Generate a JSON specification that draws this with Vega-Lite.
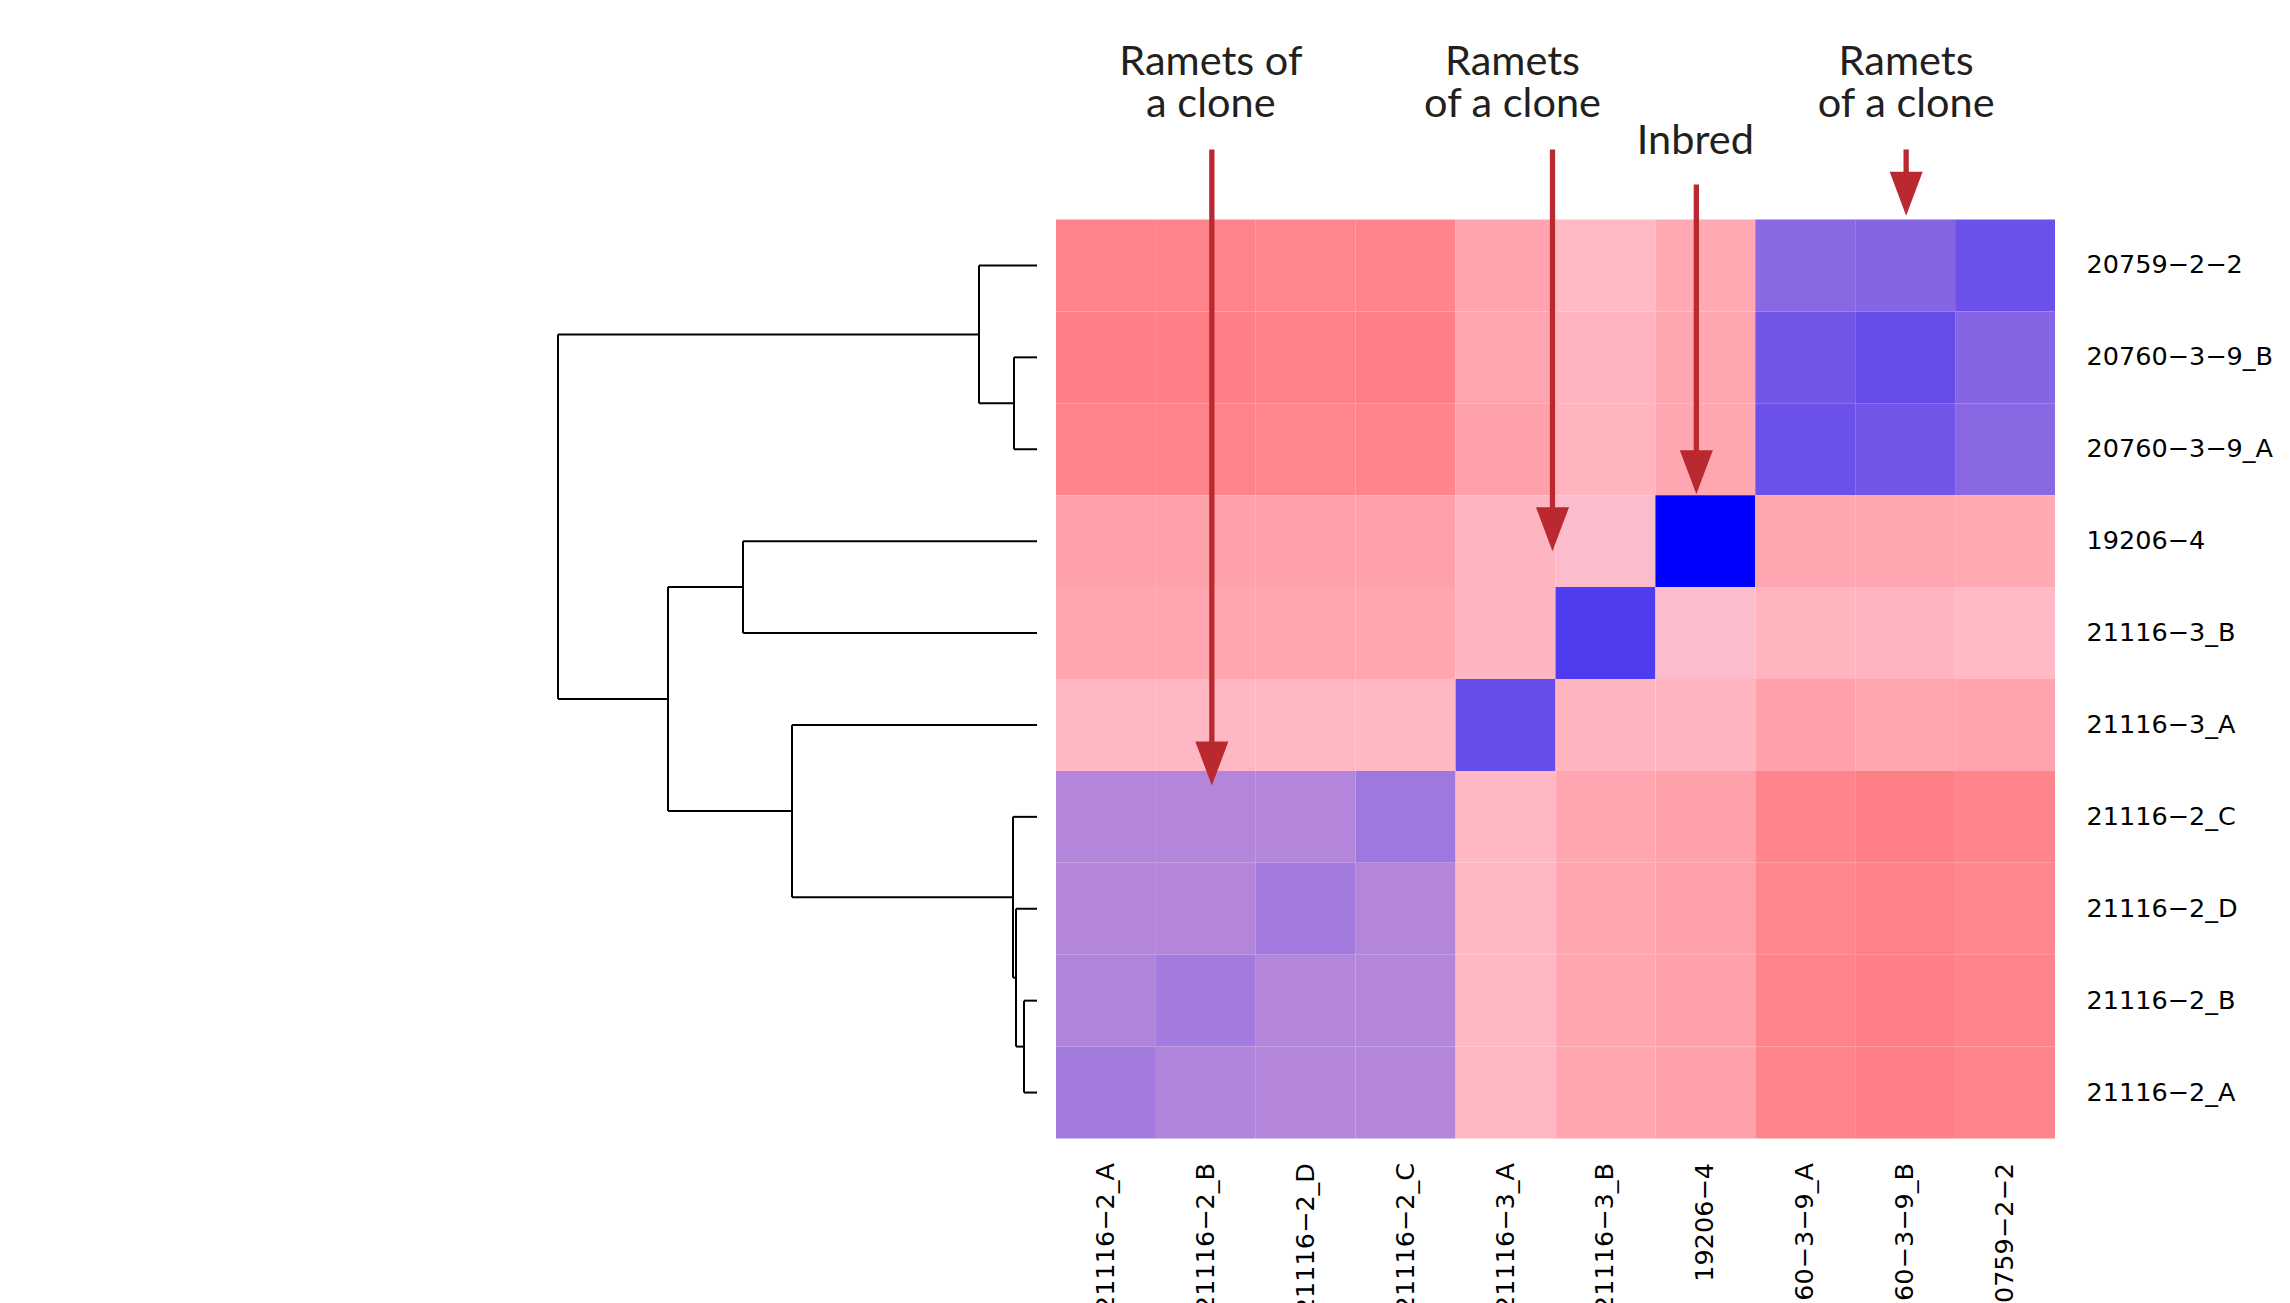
{
  "$schema": "https://vega.github.io/schema/vega-lite/v6.json",
  "background": "white",
  "padding": {"left": 537, "top": 41.5, "right": 0, "bottom": 0},
  "bounds": "flush",
  "spacing": 19,
  "config": {"view": {"stroke": null}},
  "datasets": {
    "heat": [
      {"r": "20759−2−2", "c": "21116−2_A", "v": 1.32},
      {"r": "20759−2−2", "c": "21116−2_B", "v": 1.32},
      {"r": "20759−2−2", "c": "21116−2_D", "v": 1.30},
      {"r": "20759−2−2", "c": "21116−2_C", "v": 1.315},
      {"r": "20759−2−2", "c": "21116−3_A", "v": 1.145},
      {"r": "20759−2−2", "c": "21116−3_B", "v": 1.03},
      {"r": "20759−2−2", "c": "19206−4", "v": 1.12},
      {"r": "20759−2−2", "c": "20760−3−9_A", "v": 0.54},
      {"r": "20759−2−2", "c": "20760−3−9_B", "v": 0.525},
      {"r": "20759−2−2", "c": "20759−2−2", "v": 0.42},

      {"r": "20760−3−9_B", "c": "21116−2_A", "v": 1.34},
      {"r": "20760−3−9_B", "c": "21116−2_B", "v": 1.34},
      {"r": "20760−3−9_B", "c": "21116−2_D", "v": 1.33},
      {"r": "20760−3−9_B", "c": "21116−2_C", "v": 1.34},
      {"r": "20760−3−9_B", "c": "21116−3_A", "v": 1.14},
      {"r": "20760−3−9_B", "c": "21116−3_B", "v": 1.06},
      {"r": "20760−3−9_B", "c": "19206−4", "v": 1.13},
      {"r": "20760−3−9_B", "c": "20760−3−9_A", "v": 0.45},
      {"r": "20760−3−9_B", "c": "20760−3−9_B", "v": 0.40},
      {"r": "20760−3−9_B", "c": "20759−2−2", "v": 0.525},

      {"r": "20760−3−9_A", "c": "21116−2_A", "v": 1.32},
      {"r": "20760−3−9_A", "c": "21116−2_B", "v": 1.32},
      {"r": "20760−3−9_A", "c": "21116−2_D", "v": 1.30},
      {"r": "20760−3−9_A", "c": "21116−2_C", "v": 1.315},
      {"r": "20760−3−9_A", "c": "21116−3_A", "v": 1.16},
      {"r": "20760−3−9_A", "c": "21116−3_B", "v": 1.065},
      {"r": "20760−3−9_A", "c": "19206−4", "v": 1.13},
      {"r": "20760−3−9_A", "c": "20760−3−9_A", "v": 0.42},
      {"r": "20760−3−9_A", "c": "20760−3−9_B", "v": 0.45},
      {"r": "20760−3−9_A", "c": "20759−2−2", "v": 0.54},

      {"r": "19206−4", "c": "21116−2_A", "v": 1.16},
      {"r": "19206−4", "c": "21116−2_B", "v": 1.16},
      {"r": "19206−4", "c": "21116−2_D", "v": 1.16},
      {"r": "19206−4", "c": "21116−2_C", "v": 1.16},
      {"r": "19206−4", "c": "21116−3_A", "v": 1.055},
      {"r": "19206−4", "c": "21116−3_B", "v": 0.985},
      {"r": "19206−4", "c": "19206−4", "v": 0.0},
      {"r": "19206−4", "c": "20760−3−9_A", "v": 1.13},
      {"r": "19206−4", "c": "20760−3−9_B", "v": 1.13},
      {"r": "19206−4", "c": "20759−2−2", "v": 1.12},

      {"r": "21116−3_B", "c": "21116−2_A", "v": 1.135},
      {"r": "21116−3_B", "c": "21116−2_B", "v": 1.135},
      {"r": "21116−3_B", "c": "21116−2_D", "v": 1.135},
      {"r": "21116−3_B", "c": "21116−2_C", "v": 1.135},
      {"r": "21116−3_B", "c": "21116−3_A", "v": 1.055},
      {"r": "21116−3_B", "c": "21116−3_B", "v": 0.31},
      {"r": "21116−3_B", "c": "19206−4", "v": 0.985},
      {"r": "21116−3_B", "c": "20760−3−9_A", "v": 1.065},
      {"r": "21116−3_B", "c": "20760−3−9_B", "v": 1.06},
      {"r": "21116−3_B", "c": "20759−2−2", "v": 1.03},

      {"r": "21116−3_A", "c": "21116−2_A", "v": 1.04},
      {"r": "21116−3_A", "c": "21116−2_B", "v": 1.04},
      {"r": "21116−3_A", "c": "21116−2_D", "v": 1.04},
      {"r": "21116−3_A", "c": "21116−2_C", "v": 1.04},
      {"r": "21116−3_A", "c": "21116−3_A", "v": 0.40},
      {"r": "21116−3_A", "c": "21116−3_B", "v": 1.055},
      {"r": "21116−3_A", "c": "19206−4", "v": 1.055},
      {"r": "21116−3_A", "c": "20760−3−9_A", "v": 1.16},
      {"r": "21116−3_A", "c": "20760−3−9_B", "v": 1.14},
      {"r": "21116−3_A", "c": "20759−2−2", "v": 1.145},

      {"r": "21116−2_C", "c": "21116−2_A", "v": 0.70},
      {"r": "21116−2_C", "c": "21116−2_B", "v": 0.70},
      {"r": "21116−2_C", "c": "21116−2_D", "v": 0.70},
      {"r": "21116−2_C", "c": "21116−2_C", "v": 0.625},
      {"r": "21116−2_C", "c": "21116−3_A", "v": 1.04},
      {"r": "21116−2_C", "c": "21116−3_B", "v": 1.135},
      {"r": "21116−2_C", "c": "19206−4", "v": 1.16},
      {"r": "21116−2_C", "c": "20760−3−9_A", "v": 1.315},
      {"r": "21116−2_C", "c": "20760−3−9_B", "v": 1.34},
      {"r": "21116−2_C", "c": "20759−2−2", "v": 1.315},

      {"r": "21116−2_D", "c": "21116−2_A", "v": 0.70},
      {"r": "21116−2_D", "c": "21116−2_B", "v": 0.70},
      {"r": "21116−2_D", "c": "21116−2_D", "v": 0.64},
      {"r": "21116−2_D", "c": "21116−2_C", "v": 0.70},
      {"r": "21116−2_D", "c": "21116−3_A", "v": 1.04},
      {"r": "21116−2_D", "c": "21116−3_B", "v": 1.135},
      {"r": "21116−2_D", "c": "19206−4", "v": 1.16},
      {"r": "21116−2_D", "c": "20760−3−9_A", "v": 1.30},
      {"r": "21116−2_D", "c": "20760−3−9_B", "v": 1.33},
      {"r": "21116−2_D", "c": "20759−2−2", "v": 1.30},

      {"r": "21116−2_B", "c": "21116−2_A", "v": 0.69},
      {"r": "21116−2_B", "c": "21116−2_B", "v": 0.64},
      {"r": "21116−2_B", "c": "21116−2_D", "v": 0.70},
      {"r": "21116−2_B", "c": "21116−2_C", "v": 0.70},
      {"r": "21116−2_B", "c": "21116−3_A", "v": 1.04},
      {"r": "21116−2_B", "c": "21116−3_B", "v": 1.135},
      {"r": "21116−2_B", "c": "19206−4", "v": 1.16},
      {"r": "21116−2_B", "c": "20760−3−9_A", "v": 1.32},
      {"r": "21116−2_B", "c": "20760−3−9_B", "v": 1.34},
      {"r": "21116−2_B", "c": "20759−2−2", "v": 1.32},

      {"r": "21116−2_A", "c": "21116−2_A", "v": 0.64},
      {"r": "21116−2_A", "c": "21116−2_B", "v": 0.69},
      {"r": "21116−2_A", "c": "21116−2_D", "v": 0.70},
      {"r": "21116−2_A", "c": "21116−2_C", "v": 0.70},
      {"r": "21116−2_A", "c": "21116−3_A", "v": 1.04},
      {"r": "21116−2_A", "c": "21116−3_B", "v": 1.135},
      {"r": "21116−2_A", "c": "19206−4", "v": 1.16},
      {"r": "21116−2_A", "c": "20760−3−9_A", "v": 1.32},
      {"r": "21116−2_A", "c": "20760−3−9_B", "v": 1.34},
      {"r": "21116−2_A", "c": "20759−2−2", "v": 1.32}
    ],
    "tree": [
      {"h1": 0.23, "h2": 0.23, "y1": 1.5, "y2": 2.5},
      {"h1": 0.23, "h2": 0, "y1": 1.5, "y2": 1.5},
      {"h1": 0.23, "h2": 0, "y1": 2.5, "y2": 2.5},
      {"h1": 0.58, "h2": 0.58, "y1": 0.5, "y2": 2.0},
      {"h1": 0.58, "h2": 0, "y1": 0.5, "y2": 0.5},
      {"h1": 0.58, "h2": 0.23, "y1": 2.0, "y2": 2.0},
      {"h1": 2.94, "h2": 2.94, "y1": 3.5, "y2": 4.5},
      {"h1": 2.94, "h2": 0, "y1": 3.5, "y2": 3.5},
      {"h1": 2.94, "h2": 0, "y1": 4.5, "y2": 4.5},
      {"h1": 0.13, "h2": 0.13, "y1": 8.5, "y2": 9.5},
      {"h1": 0.13, "h2": 0, "y1": 8.5, "y2": 8.5},
      {"h1": 0.13, "h2": 0, "y1": 9.5, "y2": 9.5},
      {"h1": 0.21, "h2": 0.21, "y1": 7.5, "y2": 9.0},
      {"h1": 0.21, "h2": 0, "y1": 7.5, "y2": 7.5},
      {"h1": 0.21, "h2": 0.13, "y1": 9.0, "y2": 9.0},
      {"h1": 0.24, "h2": 0.24, "y1": 6.5, "y2": 8.25},
      {"h1": 0.24, "h2": 0, "y1": 6.5, "y2": 6.5},
      {"h1": 0.24, "h2": 0.21, "y1": 8.25, "y2": 8.25},
      {"h1": 2.45, "h2": 2.45, "y1": 5.5, "y2": 7.375},
      {"h1": 2.45, "h2": 0, "y1": 5.5, "y2": 5.5},
      {"h1": 2.45, "h2": 0.24, "y1": 7.375, "y2": 7.375},
      {"h1": 3.69, "h2": 3.69, "y1": 4.0, "y2": 6.4375},
      {"h1": 3.69, "h2": 2.94, "y1": 4.0, "y2": 4.0},
      {"h1": 3.69, "h2": 2.45, "y1": 6.4375, "y2": 6.4375},
      {"h1": 4.79, "h2": 4.79, "y1": 1.25, "y2": 5.21875},
      {"h1": 4.79, "h2": 0.58, "y1": 1.25, "y2": 1.25},
      {"h1": 4.79, "h2": 3.69, "y1": 5.21875, "y2": 5.21875}
    ],
    "arrows": [
      {"ax": 1.56, "top": -0.762, "tip": 6.16},
      {"ax": 4.97, "top": -0.762, "tip": 3.61},
      {"ax": 6.41, "top": -0.381, "tip": 2.99},
      {"ax": 8.51, "top": -0.762, "tip": -0.04}
    ],
    "notes": [
      {"label": "Ramets of\na clone", "lx": 1.55, "ly": -1.567},
      {"label": "Ramets\nof a clone", "lx": 4.57, "ly": -1.567},
      {"label": "Inbred", "lx": 6.4, "ly": -0.718},
      {"label": "Ramets\nof a clone", "lx": 8.51, "ly": -1.567}
    ]
  },
  "hconcat": [
    {
      "width": 500,
      "height": 919,
      "data": {"name": "tree"},
      "mark": {"type": "rule", "color": "black", "strokeWidth": 2},
      "encoding": {
        "x": {"field": "h1", "type": "quantitative", "scale": {"domain": [0, 5], "reverse": true, "nice": false, "zero": false}, "axis": null},
        "x2": {"field": "h2"},
        "y": {"field": "y1", "type": "quantitative", "scale": {"domain": [0, 10], "reverse": true, "nice": false, "zero": false}, "axis": null},
        "y2": {"field": "y2"}
      }
    },
    {
      "width": 999,
      "height": 919,
      "resolve": {"scale": {"x": "independent", "y": "independent"}},
      "layer": [
        {
          "data": {"name": "heat"},
          "mark": {"type": "rect"},
          "encoding": {
            "x": {
              "field": "c", "type": "nominal",
              "sort": ["21116−2_A", "21116−2_B", "21116−2_D", "21116−2_C", "21116−3_A", "21116−3_B", "19206−4", "20760−3−9_A", "20760−3−9_B", "20759−2−2"],
              "axis": {"orient": "bottom", "title": null, "labelAngle": -90, "labelFont": "DejaVu Sans", "labelFontSize": 25.5, "labelColor": "black", "ticks": false, "domain": false, "labelPadding": 24, "labelLimit": 500}
            },
            "y": {
              "field": "r", "type": "nominal",
              "sort": ["20759−2−2", "20760−3−9_B", "20760−3−9_A", "19206−4", "21116−3_B", "21116−3_A", "21116−2_C", "21116−2_D", "21116−2_B", "21116−2_A"],
              "axis": {"orient": "right", "title": null, "labelFont": "DejaVu Sans", "labelFontSize": 25.5, "labelColor": "black", "ticks": false, "domain": false, "labelPadding": 31, "labelLimit": 500}
            },
            "color": {
              "field": "v", "type": "quantitative",
              "scale": {"domain": [0, 1, 2], "range": ["#0000ff", "#ffc0cb", "#ff0000"], "interpolate": "rgb"},
              "legend": null
            }
          }
        },
        {
          "data": {"name": "arrows"},
          "mark": {"type": "rule", "color": "#b9292f", "strokeWidth": 5.3, "y2Offset": -30},
          "encoding": {
            "x": {"field": "ax", "type": "quantitative", "scale": {"domain": [0, 10], "nice": false, "zero": false}, "axis": null},
            "y": {"field": "top", "type": "quantitative", "scale": {"domain": [0, 10], "reverse": true, "nice": false, "zero": false}, "axis": null},
            "y2": {"field": "tip"}
          }
        },
        {
          "data": {"name": "arrows"},
          "mark": {"type": "point", "shape": "M-0.75,-2L0.75,-2L0,0Z", "size": 1936, "filled": true, "opacity": 1, "color": "#b9292f", "strokeWidth": 0},
          "encoding": {
            "x": {"field": "ax", "type": "quantitative", "scale": {"domain": [0, 10], "nice": false, "zero": false}, "axis": null},
            "y": {"field": "tip", "type": "quantitative", "scale": {"domain": [0, 10], "reverse": true, "nice": false, "zero": false}, "axis": null}
          }
        },
        {
          "data": {"name": "notes"},
          "mark": {"type": "text", "font": "Lato", "fontSize": 41.5, "color": "#231f20", "align": "center", "baseline": "alphabetic", "lineBreak": "\n", "lineHeight": 42},
          "encoding": {
            "x": {"field": "lx", "type": "quantitative", "scale": {"domain": [0, 10], "nice": false, "zero": false}, "axis": null},
            "y": {"field": "ly", "type": "quantitative", "scale": {"domain": [0, 10], "reverse": true, "nice": false, "zero": false}, "axis": null},
            "text": {"field": "label"}
          }
        }
      ]
    }
  ]
}
